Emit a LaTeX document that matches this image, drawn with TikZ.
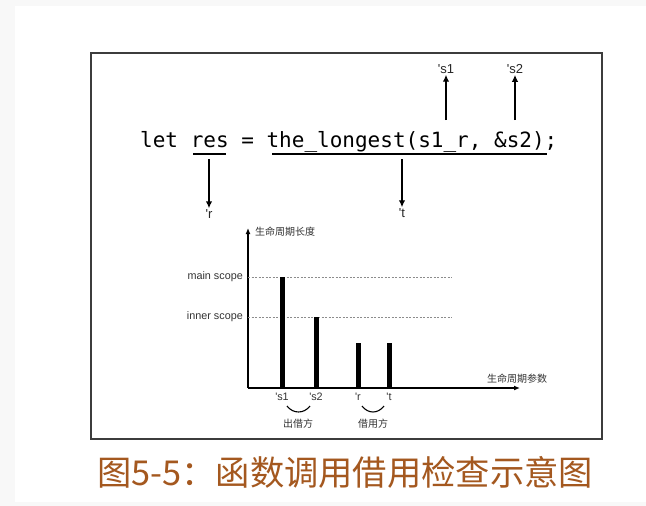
\documentclass[tikz,border=0pt]{standalone}
\usepackage{fontspec}
\setmainfont{Liberation Sans}
\setmonofont{DejaVu Sans Mono}
\newfontfamily\cjk{Noto Sans CJK SC}
\usetikzlibrary{arrows.meta,positioning}
\definecolor{framegray}{HTML}{3C3C3C}
\definecolor{capbrown}{HTML}{A4581F}
\definecolor{bggray}{HTML}{F8F8F8}

\tikzset{
  code/.style={font=\ttfamily\fontsize{21pt}{24pt}\selectfont, text=black, inner sep=0pt, anchor=base west},
  lt/.style={font=\fontsize{13pt}{15pt}\selectfont, text=black!85, inner sep=1pt},
  arr/.style={-{Latex[length=7pt,width=6.5pt]}, line width=1.5pt},
  small/.style={font=\fontsize{10.8pt}{12pt}\selectfont, text=black!80, inner sep=1pt},
  smallcjk/.style={font=\cjk\fontsize{10pt}{12pt}\selectfont, text=black!80, inner sep=1pt},
  bar/.style={line width=5pt},
  level/.style={draw=black!45, line width=0.7pt, dash pattern=on 2pt off 1.5pt}
}
\newcommand{\tick}{\textquotesingle}

\begin{document}
\begin{tikzpicture}[x=1pt, y=-1pt]
    % Pozadí
    \fill[bggray] (0,0) rectangle (646,506);
    \fill[white] (15,6) rectangle (646,502);
    \useasboundingbox (0,0) rectangle (646,506);

    % Rámeček
    \draw[framegray, line width=2pt] (91,53) rectangle (602,439);

    % Řádek kódu
    \node[code] (let) at (140,147) {let};
    \node[code] (res) at (140+4*12.64,147) {res};
    \node[code] (eq) at (140+8*12.64,147) {=};
    \node[code] (call) at (140+10*12.64,147) {the\_longest(s1\_r, \&s2)};
    \node[code] (semi) at (140+32*12.64,147) {;};

    % Podtržení
    \draw[line width=1.2pt] (193,154) -- (226,154);
    \draw[line width=1.2pt] (272,154) -- (547,154);

    % Šipky dolů
    \coordinate (resdn) at (209,159);
    \coordinate (calldn) at (402,159);
    \node[lt] (r) at (209,214) {\tick r};
    \node[lt] (t) at (402,213) {\tick t};
    \draw[arr] (resdn) -- (r.north);
    \draw[arr] (calldn) -- (t.north);

    % Šipky nahoru
    \coordinate (s1up) at (446,120);
    \coordinate (s2up) at (515,120);
    \node[lt] (s1) at (446,69) {\tick s1};
    \node[lt] (s2) at (515,69) {\tick s2};
    \draw[arr] (s1up) -- (s1.south);
    \draw[arr] (s2up) -- (s2.south);

    % Osy
    \coordinate (o) at (248,388);
    \coordinate (ytip) at (248,228);
    \coordinate (xtip) at (520,388);
    \draw[line width=1.2pt, -{Latex[length=6pt,width=5pt]}] (o) -- (ytip);
    \draw[line width=1.2pt, -{Latex[length=6pt,width=5pt]}] (o) -- (xtip);
    \node[smallcjk, anchor=west] (ylab) at (254,232) {生命周期长度};
    \node[smallcjk] (xlab) at (517,379) {生命周期参数};

    % Úrovně
    \draw[level] (248,277) -- (452,277);
    \draw[level] (248,317) -- (452,317);
    \node[small, anchor=east] (mainsc) at (244,277) {main scope};
    \node[small, anchor=east] (innersc) at (244,317) {inner scope};

    % Sloupce
    \draw[bar] (282,388) -- (282,277);
    \draw[bar] (316,388) -- (316,317);
    \draw[bar] (358,388) -- (358,343);
    \draw[bar] (389,388) -- (389,343);
    \node[small] (bs1) at (282,397) {\tick s1};
    \node[small] (bs2) at (316,397) {\tick s2};
    \node[small] (br) at (358,397) {\tick r};
    \node[small] (bt) at (389,397) {\tick t};

    % Oblouky
    \draw[line width=1.1pt] (287,406) .. controls (293,414) and (304,414) .. (310,406);
    \draw[line width=1.1pt] (362,406) .. controls (368,414) and (378,414) .. (384,406);
    \node[smallcjk] (lender) at (298,424) {出借方};
    \node[smallcjk] (borrower) at (373,424) {借用方};

    % Popisek
    \node[anchor=west, inner sep=0pt, text=capbrown, font=\cjk\fontsize{34.3pt}{38pt}\selectfont] (cap) at (97,472) {图5-5：函数调用借用检查示意图};
\end{tikzpicture}
\end{document}
